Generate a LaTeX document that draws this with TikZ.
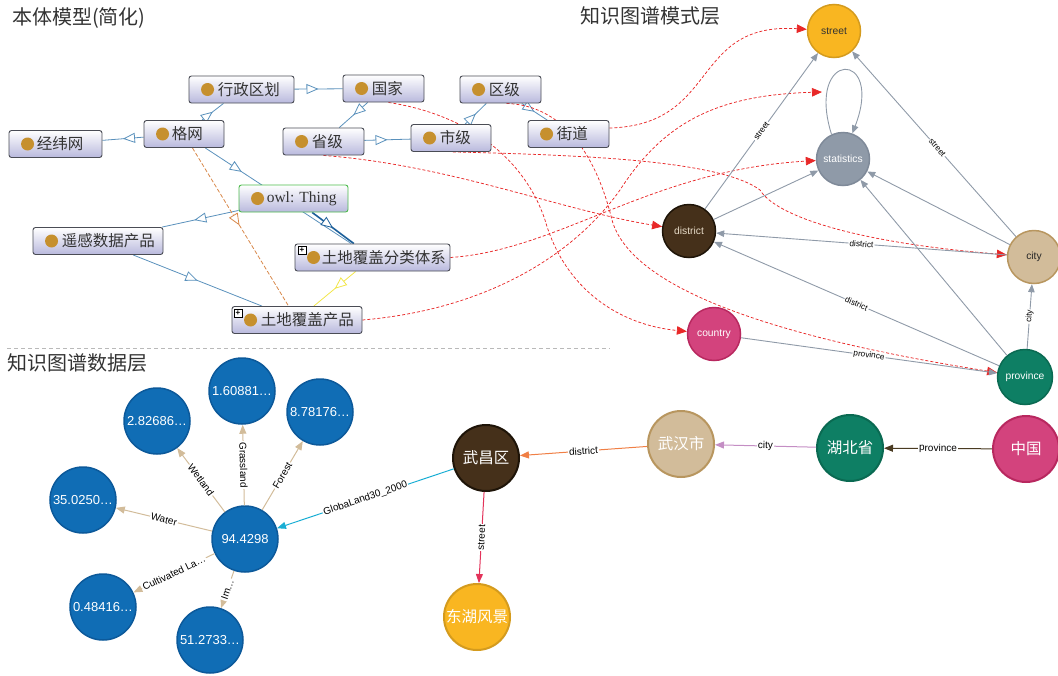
\documentclass[tikz,border=0pt]{standalone}
\usepackage{fontspec}
\setmainfont{Liberation Sans}
\newfontfamily\cjk{Noto Sans CJK SC}
\newfontfamily\serifl{Liberation Serif}
\usetikzlibrary{arrows.meta,decorations.markings,calc}
\pgfdeclarelayer{background}
\pgfsetlayers{background,main}
\definecolor{obdr}{HTML}{4A4C55}
\definecolor{oblav}{HTML}{B9B9DD}
\definecolor{dotc}{HTML}{C6902E}
\definecolor{otext}{HTML}{333333}
\definecolor{isablue}{HTML}{5A91BC}
\definecolor{owlgreen}{HTML}{4DBB4D}
\definecolor{isadark}{HTML}{1B5E99}
\definecolor{isayel}{HTML}{F2E64A}
\definecolor{isaor}{HTML}{D8884A}
\definecolor{mapred}{HTML}{E82828}
\definecolor{sgray}{HTML}{8F9AA8}
\definecolor{cstreet}{HTML}{F9B621}
\definecolor{bstreet}{HTML}{D49B1E}
\definecolor{cstat}{HTML}{8F9AA8}
\definecolor{bstat}{HTML}{7F8A99}
\definecolor{cdist}{HTML}{45301A}
\definecolor{bdist}{HTML}{1E1408}
\definecolor{ccity}{HTML}{D2BC9A}
\definecolor{bcity}{HTML}{B8965F}
\definecolor{ccountry}{HTML}{D3437D}
\definecolor{bcountry}{HTML}{B8285F}
\definecolor{cprov}{HTML}{0E7F64}
\definecolor{bprov}{HTML}{0A6A52}
\definecolor{cblue}{HTML}{106DB5}
\definecolor{bblue}{HTML}{0C599A}
\definecolor{etan}{HTML}{D2BC9A}
\definecolor{ecyan}{HTML}{1AAED4}
\definecolor{eorange}{HTML}{F07F45}
\definecolor{epurple}{HTML}{C48EC4}
\definecolor{ebrown}{HTML}{4A3B22}
\definecolor{ered}{HTML}{E3335A}
\definecolor{titlec}{HTML}{333333}
\newcommand\obx[7]{%
  \node[obox,minimum width=#4pt,#6] (#1) at (#2,#3) {};
  \fill[dotc] ([xshift=19pt]#1.west) circle (6.5pt);
  \node[otxt] (#1t) at ([xshift=#7pt]#1.west) {#5};}
\begin{document}
\begin{tikzpicture}[x=1pt,y=-1pt,
  obox/.style={draw=obdr, rounded corners=2.5pt, top color=white, bottom color=oblav, minimum height=27pt, inner sep=0pt, line width=0.9pt},
  otxt/.style={anchor=west, inner sep=0pt, font=\cjk\fontsize{15.5}{16}\selectfont, text=otext},
  isa/.style={draw=isablue, line width=0.8pt, postaction={decorate}, decoration={markings, mark=at position #1 with {\arrow{Triangle[length=12pt,width=10pt,fill=white,line width=0.8pt]}}}},
  isa/.default=0.5,
  plusb/.style={draw=black, fill=white, minimum size=8pt, inner sep=0pt, font=\bfseries\fontsize{8}{8}\selectfont},
  map/.style={draw=mapred, line width=0.75pt, dash pattern=on 3pt off 2pt, -{Triangle[length=10pt,width=8.5pt,fill=mapred]}},
  snode/.style={circle, line width=1.5pt, minimum size=53pt, inner sep=0pt, font=\fontsize{10.3}{10.3}\selectfont},
  sedge/.style={draw=sgray, line width=0.9pt, -{Triangle[length=8pt,width=6.5pt]}},
  elab/.style={font=\fontsize{8.3}{8.3}\selectfont, fill=white, inner sep=1pt, sloped, text=black},
  dnode/.style={circle, fill=cblue, draw=bblue, line width=1.5pt, minimum size=66pt, inner sep=0pt, text=white, font=\fontsize{13}{13}\selectfont},
  cnode/.style={circle, line width=2pt, minimum size=66pt, inner sep=0pt, text=white, font=\cjk\fontsize{15.5}{16}\selectfont},
  dedge/.style={line width=1pt, -{Triangle[length=9pt,width=7pt]}},
  dlab/.style={font=\fontsize{10}{10}\selectfont, fill=white, inner sep=1pt, sloped, text=black},
  ttl/.style={anchor=west, inner sep=0pt, font=\cjk\fontsize{20}{20}\selectfont, text=titlec}]
\useasboundingbox (0,0) rectangle (1058,675);

% titles
\node[ttl] (t1) at (12,18) {本体模型(简化)};
\node[ttl] (t2) at (580,16) {知识图谱模式层};
\node[ttl] (t3) at (7,363) {知识图谱数据层};
\draw[gray!55, line width=0.8pt, dash pattern=on 4pt off 3pt] (7,348) -- (610,348);

% ontology boxes
\obx{jingwei}{55.5}{144}{93}{经纬网}{}{28}
\obx{gewang}{184}{134}{80}{格网}{}{28}
\obx{xzqh}{241.5}{89.5}{105}{行政区划}{}{29}
\obx{guojia}{383.5}{88.5}{81}{国家}{}{29}
\obx{shengji}{323.5}{141.5}{81}{省级}{}{29}
\obx{shiji}{451}{138}{80}{市级}{}{29}
\obx{quji}{500.5}{89.5}{81}{区级}{}{29}
\obx{jiedao}{568.5}{134}{81}{街道}{}{29}
\obx{owl}{293.5}{198.5}{109}{{\serifl owl: Thing}}{draw=owlgreen}{28}
\obx{yaogan}{98}{241}{130}{遥感数据产品}{}{29}
\obx{tdfl}{372.5}{257.5}{155}{土地覆盖分类体系}{}{27}
\obx{cpin}{297}{320}{130}{土地覆盖产品}{}{29}
\node[plusb] (tdflp) at (302,250.5) {+};
\node[plusb] (cpinp) at (238,313.5) {+};

% schema nodes
\node[snode, fill=cstreet, draw=bstreet, text=otext] (street) at (834,31) {street};
\node[snode, fill=cstat, draw=bstat, text=white] (stat) at (843,159) {statistics};
\node[snode, fill=cdist, draw=bdist, text=ccity!55!white] (dist) at (689,231) {district};
\node[snode, fill=ccity, draw=bcity, text=black!85] (city) at (1034,257) {city};
\node[snode, fill=ccountry, draw=bcountry, text=white] (country) at (714,334) {country};
\node[snode, fill=cprov, draw=bprov, text=white, minimum size=55pt] (prov) at (1025,377) {province};
\coordinate (looptip) at (822,92);

% data nodes
\node[dnode] (n94) at (245,539) {94.4298};
\node[dnode] (n282) at (157,421) {2.82686…};
\node[dnode] (n160) at (242,391) {1.60881…};
\node[dnode] (n878) at (320,412) {8.78176…};
\node[dnode] (n350) at (83,500) {35.0250…};
\node[dnode] (n048) at (103,607) {0.48416…};
\node[dnode] (n512) at (210,640) {51.2733…};
\node[cnode, fill=cdist, draw=bdist] (wuchang) at (486,458) {武昌区};
\node[cnode, fill=cstreet, draw=bstreet] (donghu) at (477,617) {东湖风景};
\node[cnode, fill=ccity, draw=bcity] (wuhan) at (681,444) {武汉市};
\node[cnode, fill=cprov, draw=bprov] (hubei) at (850,448) {湖北省};
\node[cnode, fill=ccountry, draw=bcountry] (china) at (1026,449) {中国};

\begin{pgfonlayer}{background}
% ontology edges
\draw[isa] (gewang) -- (jingwei);
\draw[isa] (gewang) -- (xzqh);
\draw[isa] (xzqh) -- (guojia);
\draw[isa] (guojia) -- (shengji);
\draw[isa] (shengji) -- (shiji);
\draw[isa] (shiji) -- (quji);
\draw[isa] (quji) -- (jiedao);
\draw[isa=0.25] (gewang) -- (tdfl);
\draw[isa, draw=isadark, line width=1.6pt] (owl) -- (tdfl);
\draw[isa=0.58] (owl) -- (yaogan);
\draw[isa] (yaogan) -- (cpin);
\draw[isa, draw=isayel] (tdfl) -- (cpin);
\draw[isa=0.49, draw=isaor, dash pattern=on 4pt off 2pt] (gewang) -- (cpin);

% mapping curves
\draw[map] ([yshift=6pt]jiedao.east) .. controls (720,125) and (690,22) .. (street);
\draw[map] (cpin.east) .. controls (480,310) and (570,260) .. (620,190) .. controls (665,120) and (720,95) .. (looptip);
\draw[map] (tdfl.east) .. controls (560,250) and (650,170) .. (stat);
\draw[map] ([xshift=5pt]guojia.south) .. controls (470,115) and (525,160) .. (545,220) .. controls (565,290) and (620,325) .. (country);
\draw[map] ([xshift=6pt]quji.south) .. controls (560,105) and (595,150) .. (612,220) .. controls (630,285) and (760,335) .. (prov);
\draw[map] (shengji.south) .. controls (450,165) and (560,210) .. (dist);
\draw[map] ([xshift=2pt]shiji.south) .. controls (580,155) and (720,160) .. (760,190) .. controls (775,215) and (850,242) .. (city);
\end{pgfonlayer}

% schema edges
\draw[sedge] (dist) -- node[elab]{street} (street);
\draw[sedge] (city) -- node[elab, pos=0.48]{street} (street);
\draw[sedge] (dist) -- (stat);
\draw[sedge] (city) -- (stat);
\draw[sedge] (prov) -- (stat);
\draw[sedge] (city) -- node[elab]{district} (dist);
\draw[sedge] (prov) -- node[elab]{district} (dist);
\draw[sedge] (country) -- node[elab]{province} (prov);
\draw[sedge] (prov) -- node[elab]{city} (city);
\draw[sedge] (stat.115) .. controls (805,49) and (885,49) .. (stat.70);

% data edges
\draw[dedge, draw=etan] (n94) -- node[dlab]{Wetland} (n282);
\draw[dedge, draw=etan] (n94) -- node[dlab]{Grassland} (n160);
\draw[dedge, draw=etan] (n94) -- node[dlab]{Forest} (n878);
\draw[dedge, draw=etan] (n94) -- node[dlab]{Water} (n350);
\draw[dedge, draw=etan] (n94) -- node[dlab]{Cultivated La…} (n048);
\draw[dedge, draw=etan] (n94) -- node[dlab]{Im…} (n512);
\draw[dedge, draw=ecyan] (wuchang) -- node[dlab]{GlobaLand30\_2000} (n94);
\draw[dedge, draw=eorange] (wuhan) -- node[dlab]{district} (wuchang);
\draw[dedge, draw=epurple] (hubei) -- node[dlab]{city} (wuhan);
\draw[dedge, draw=ebrown] (china) -- node[dlab]{province} (hubei);
\draw[dedge, draw=ered] (wuchang) -- node[dlab]{street} (donghu);
\end{tikzpicture}
\end{document}
